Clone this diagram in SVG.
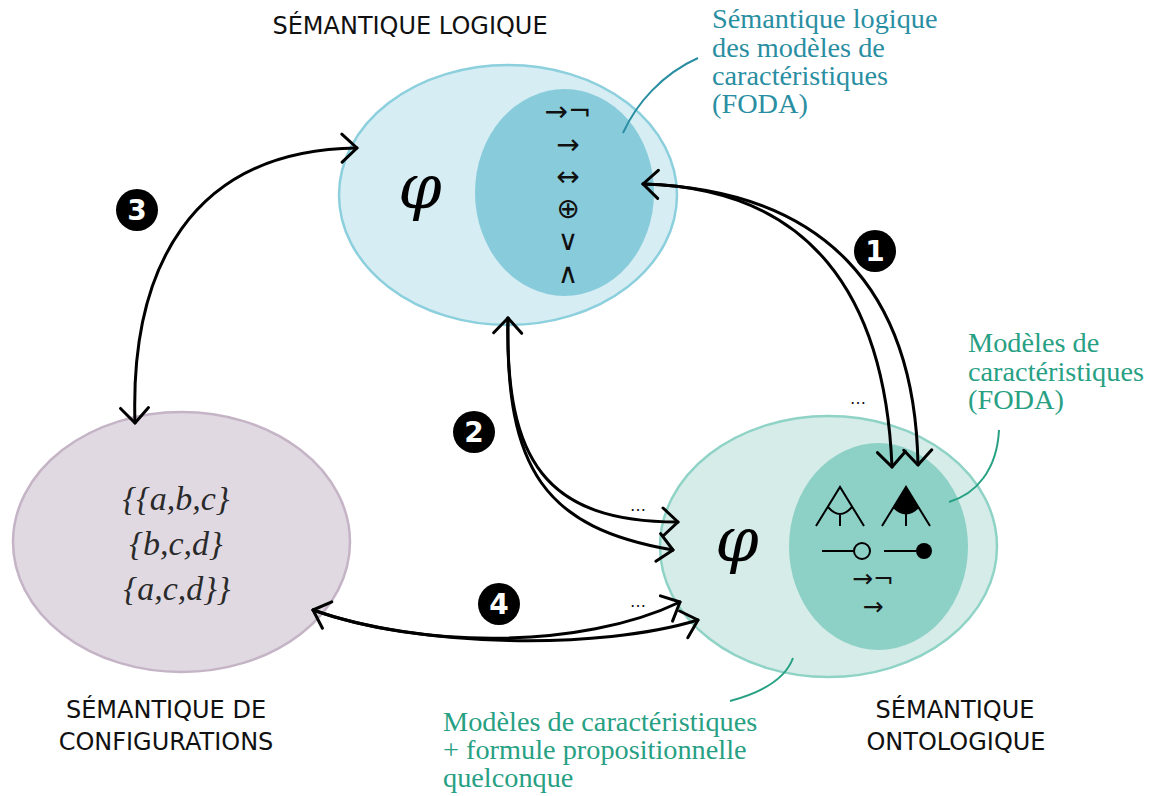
<svg xmlns="http://www.w3.org/2000/svg" width="1154" height="796" viewBox="0 0 1154 796">
<style>
.title{font-family:"DejaVu Sans",sans-serif;font-size:24px;fill:#111;text-anchor:middle}
.sym{font-family:"DejaVu Sans",sans-serif;font-size:28px;fill:#111;text-anchor:middle}
.sym2{font-family:"DejaVu Sans",sans-serif;font-size:25px;fill:#111;text-anchor:middle}
.phi{font-family:"DejaVu Serif",serif;font-style:italic;font-size:62px;fill:#000;text-anchor:middle}
.set{font-family:"Liberation Serif",serif;font-style:italic;font-size:34px;fill:#2a2a2a;text-anchor:middle}
.note{font-family:"Liberation Serif",serif;font-size:28.3px}
.blue{fill:#2a8ea2}
.green{fill:#27a083}
.conn{fill:none;stroke:#000;stroke-width:3;stroke-linecap:round}
.badge circle{fill:#000}
.badge text{font-family:"DejaVu Sans",sans-serif;font-weight:bold;font-size:28px;fill:#fff;text-anchor:middle}
.dots{font-family:"DejaVu Sans",sans-serif;font-size:16px;fill:#111;text-anchor:middle}
.foda{fill:none;stroke:#000;stroke-width:2}
</style>
<defs>
<marker id="ah" viewBox="-18 -16 20 32" refX="0" refY="0" markerWidth="20" markerHeight="32" markerUnits="userSpaceOnUse" orient="auto-start-reverse">
<path d="M-15,-14 L0,0 L-15,14" fill="none" stroke="#000" stroke-width="3" stroke-linecap="round" stroke-linejoin="round"/>
</marker>
</defs>
<rect width="1154" height="796" fill="#fff"/>

<g id="logique">
<ellipse cx="508" cy="195" rx="169" ry="130" fill="#d6edf3" stroke="#8ccfdd" stroke-width="2.5"/>
<ellipse cx="564.5" cy="192.5" rx="89.5" ry="103.5" fill="#88ccdc"/>
<text class="phi" x="420" y="208">φ</text>
<text class="sym" x="568" y="121">→¬</text>
<text class="sym" x="568" y="154">→</text>
<text class="sym" x="568" y="186">↔</text>
<text class="sym" x="568" y="218">⊕</text>
<text class="sym" x="568" y="250">∨</text>
<text class="sym" x="568" y="283">∧</text>
<text class="title" x="410" y="34">SÉMANTIQUE LOGIQUE</text>
</g>

<g id="configurations">
<ellipse cx="181.5" cy="542" rx="168.5" ry="130" fill="#e0d9e2" stroke="#c4b4c6" stroke-width="2.5"/>
<text class="set" x="176" y="510">{{a,b,c}</text>
<text class="set" x="176" y="555">{b,c,d}</text>
<text class="set" x="177" y="600">{a,c,d}}</text>
<text class="title" x="166" y="718">SÉMANTIQUE DE</text>
<text class="title" x="166" y="750">CONFIGURATIONS</text>
</g>

<g id="ontologique">
<ellipse cx="828.5" cy="546.5" rx="168.5" ry="130.5" fill="#d5ece8" stroke="#8fd3c6" stroke-width="2.5"/>
<ellipse cx="878.5" cy="546.5" rx="89.5" ry="103.5" fill="#8dd1c6"/>
<text class="phi" x="737" y="561">φ</text>
<path class="foda" d="M816,526 L840,487 L864,526 M828,507 Q840,521 852,507 M840,514 L840,526"/>
<path d="M906,487 L893,508 Q906,521 919,508 Z" fill="#000"/>
<path class="foda" d="M882,526 L906,487 L930,526 M906,514 L906,526"/>
<path class="foda" d="M822,551 L854,551"/>
<circle cx="862" cy="551" r="8" fill="none" stroke="#000" stroke-width="2"/>
<path class="foda" d="M884,551 L916,551"/>
<circle cx="924" cy="551" r="8" fill="#000"/>
<text class="sym2" x="873" y="587">→¬</text>
<text class="sym2" x="873" y="615">→</text>
<text class="title" x="955" y="718">SÉMANTIQUE</text>
<text class="title" x="956" y="750">ONTOLOGIQUE</text>
</g>

<g id="note-logique">
<path d="M698,58 C662,74 636,104 623,133" fill="none" stroke="#2a8ea2" stroke-width="2"/>
<text class="note blue" x="712" y="28">Sémantique logique</text>
<text class="note blue" x="712" y="57">des modèles de</text>
<text class="note blue" x="712" y="85">caractéristiques</text>
<text class="note blue" x="712" y="113">(FODA)</text>
</g>

<g id="note-foda">
<path d="M999,430 C997,470 976,494 949,502" fill="none" stroke="#27a083" stroke-width="2"/>
<text class="note green" x="968" y="352">Modèles de</text>
<text class="note green" x="968" y="381">caractéristiques</text>
<text class="note green" x="968" y="409">(FODA)</text>
</g>

<g id="note-formule">
<path d="M730,701 C760,693 785,680 793,658" fill="none" stroke="#27a083" stroke-width="2"/>
<text class="note green" x="443" y="731">Modèles de caractéristiques</text>
<text class="note green" x="443" y="759">+ formule propositionnelle</text>
<text class="note green" x="443" y="787">quelconque</text>
</g>

<g id="connectors">
<path class="conn" d="M135,423 C130,270 190,150 357,148" marker-start="url(#ah)" marker-end="url(#ah)"/>
<path class="conn" d="M643,184 C810,188 885,295 892,467" marker-start="url(#ah)" marker-end="url(#ah)"/>
<path class="conn" d="M643,184 C825,190 915,290 918,465" marker-end="url(#ah)"/>
<path class="conn" d="M508,318 C505,460 545,522 678,522" marker-start="url(#ah)" marker-end="url(#ah)"/>
<path class="conn" d="M508,318 C505,470 545,528 673,550" marker-end="url(#ah)"/>
<path class="conn" d="M313,610 C420,648 580,650 680,602" marker-start="url(#ah)" marker-end="url(#ah)"/>
<path class="conn" d="M313,610 C420,648 600,650 698,620" marker-end="url(#ah)"/>
<text class="dots" x="858" y="404">…</text>
<text class="dots" x="638" y="511">…</text>
<text class="dots" x="638" y="607">…</text>
</g>

<g id="badges" class="badge">
<circle cx="875" cy="251" r="21"/><text x="875" y="261">1</text>
<circle cx="474" cy="432" r="21"/><text x="474" y="442">2</text>
<circle cx="137" cy="210" r="21"/><text x="137" y="220">3</text>
<circle cx="499" cy="604" r="21"/><text x="499" y="614">4</text>
</g>
</svg>
